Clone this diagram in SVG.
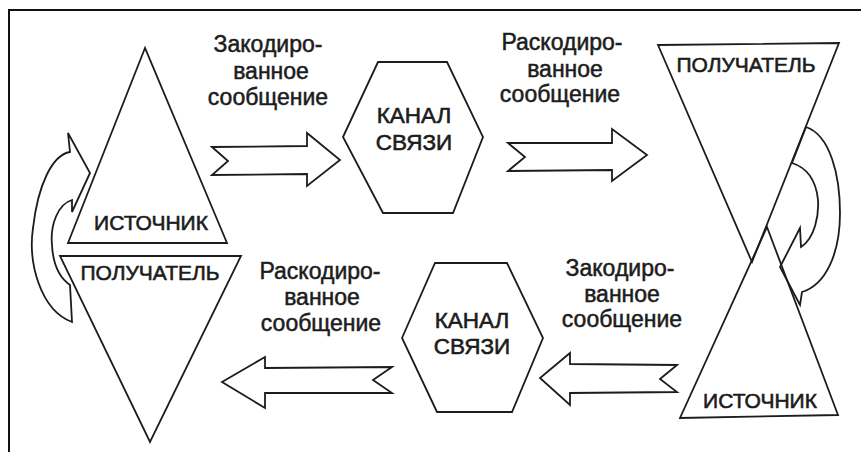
<svg xmlns="http://www.w3.org/2000/svg" width="861" height="452" viewBox="0 0 861 452">
<style>
.sh{fill:none;stroke:#1c1c1c;stroke-width:1.8;stroke-linejoin:miter}
.fr{fill:none;stroke:#111;stroke-width:2}
.lb{font-family:"Liberation Sans",Arial,sans-serif;font-size:23px;fill:#1c1c1c;stroke:#1c1c1c;stroke-width:0.5;text-anchor:middle}
.nd{font-family:"Liberation Sans",Arial,sans-serif;font-size:21px;fill:#1c1c1c;stroke:#1c1c1c;stroke-width:0.6;text-anchor:middle}
.ch{font-size:22.5px}
</style>
<rect width="861" height="452" fill="#fff"/>
<path class="fr" d="M9,452 V10 H861"/>
<g id="src-left">
<polygon class="sh" points="145,48 68,243 227,243"/>
<text class="nd" x="151" y="230">ИСТОЧНИК</text>
</g>
<g id="rcv-left">
<polygon class="sh" points="60,256 241,256 150,442"/>
<text class="nd" x="150" y="280">ПОЛУЧАТЕЛЬ</text>
</g>
<g id="channel-top">
<polygon class="sh" points="343,137 378,62 447,62 483,137 453,213 383,213"/>
<text class="nd ch" x="414" y="123">КАНАЛ</text>
<text class="nd ch" x="414" y="150">СВЯЗИ</text>
</g>
<g id="channel-bottom">
<polygon class="sh" points="402,338 435,263 507,263 543,338 512,412 437,412"/>
<text class="nd ch" x="472" y="328">КАНАЛ</text>
<text class="nd ch" x="472" y="354">СВЯЗИ</text>
</g>
<g id="rcv-right">
<polygon class="sh" points="658,45 839,43 752,262"/>
<text class="nd" x="746" y="72">ПОЛУЧАТЕЛЬ</text>
</g>
<g id="src-right">
<polygon class="sh" points="767,227 680,418 838,415"/>
<text class="nd" x="760" y="408">ИСТОЧНИК</text>
</g>
<g id="connectors">
<path class="sh" d="M212,147 L228,161 L212,175 L307,174 L307,186 L340,160 L307,133 L307,146 Z"/>
<path class="sh" d="M508,143 L525,157 L508,171 L612,170 L612,181 L647,155 L612,129 L612,143 Z"/>
<path class="sh" d="M392,367 L373,380 L392,393 L265,393 L265,408 L222,382 L265,357 L265,368 Z"/>
<path class="sh" d="M677,365 L660,379 L677,392 L570,393 L570,405 L540,378 L570,353 L570,364 Z"/>
<path class="sh" d="M72,322 C40,310 28,262 33,228 C38,185 52,155 70,152 L68,133 L90,173 L72,212 L72,200 C58,204 50,225 52,245 C53,265 60,278 70,285 Z"/>
<path class="sh" d="M806,127 C830,135 840,175 840,213 C840,255 825,285 802,292 L800,305 L780,267 L800,228 L801,247 C815,238 819,215 818,200 C816,180 808,168 792,163 Z"/>
<text class="lb" x="268" y="52">Закодиро-</text>
<text class="lb" x="271" y="79">ванное</text>
<text class="lb" x="268" y="105">сообщение</text>
<text class="lb" x="562" y="50">Раскодиро-</text>
<text class="lb" x="565" y="77">ванное</text>
<text class="lb" x="560" y="102">сообщение</text>
<text class="lb" x="320" y="279">Раскодиро-</text>
<text class="lb" x="322" y="305">ванное</text>
<text class="lb" x="321" y="331">сообщение</text>
<text class="lb" x="620" y="276">Закодиро-</text>
<text class="lb" x="622" y="302">ванное</text>
<text class="lb" x="622" y="327">сообщение</text>
</g>
</svg>
